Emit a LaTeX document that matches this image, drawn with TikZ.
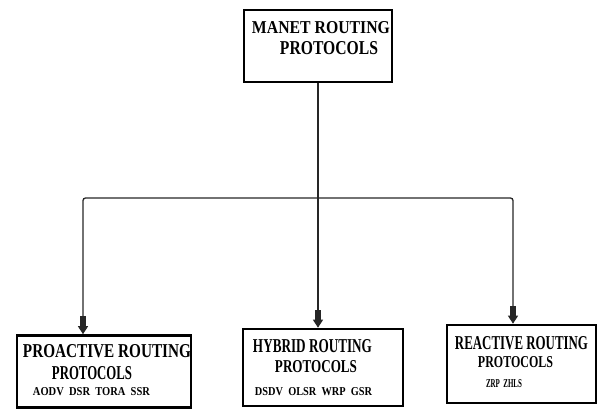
\documentclass[tikz,border=0pt]{standalone}
\usepackage{fontspec}
\setmainfont{Liberation Serif}
\usepackage{graphicx}
\usetikzlibrary{arrows.meta}
\newcommand{\fitline}[3]{\resizebox{#1pt}{#2pt}{\bfseries #3}}
\begin{document}
\begin{tikzpicture}[x=1pt,y=-1pt,
  box/.style={draw, line width=2.6pt, inner sep=0pt, anchor=center},
  lbl/.style={inner sep=0pt, anchor=center},
  conn/.style={line width=1.3pt, draw=black!85},
  tipped/.style={-{Rectangle[width=5.5pt,length=10pt]Triangle[width=10pt,length=8pt]}}]
\useasboundingbox (0,0) rectangle (598,409);
% boxes
\node[box, minimum width=148pt, minimum height=72pt] (top) at (318,46) {};
\node[box, minimum width=174pt, minimum height=72pt] (lb) at (104,371.5) {};
\node[box, minimum width=160pt, minimum height=77pt] (mb) at (323,367.5) {};
\node[box, minimum width=149pt, minimum height=78pt] (rb) at (521.5,364) {};
% texts
\node[lbl] (t1) at (321,28) {\fitline{138}{12}{MANET ROUTING}};
\node[lbl] (t2) at (329,48.5) {\fitline{98}{13}{PROTOCOLS}};
\node[lbl] (l1) at (107,351.5) {\fitline{168}{13}{PROACTIVE ROUTING}};
\node[lbl] (l2) at (92,373.5) {\fitline{80}{13}{PROTOCOLS}};
\node[lbl] (l3) at (91.5,392) {\fitline{117}{8}{AODV\ \ DSR\ \ TORA\ \ SSR}};
\node[lbl] (m1) at (312.5,346.5) {\fitline{119}{13}{HYBRID ROUTING}};
\node[lbl] (m2) at (316,367) {\fitline{82}{12}{PROTOCOLS}};
\node[lbl] (m3) at (313.5,391.5) {\fitline{117}{8}{DSDV\ \ OLSR\ \ WRP\ \ GSR}};
\node[lbl] (r1) at (521.5,343.5) {\fitline{133}{13}{REACTIVE ROUTING}};
\node[lbl] (r2) at (515.5,362.5) {\fitline{75}{11}{PROTOCOLS}};
\node[lbl] (r3) at (504,383.5) {\fitline{36}{8}{ZRP\ \ ZHLS}};
% connectors
\coordinate (j) at (318,198);
\coordinate (jl) at (83,198);
\coordinate (jr) at (513,198);
\draw[conn, tipped] (top.south) -- (top.south |- mb.north);
\draw[conn, tipped, rounded corners=2.5pt] (j) -| (lb.north -| jl);
\draw[conn, tipped, rounded corners=2.5pt] (j) -| (rb.north -| jr);
\end{tikzpicture}
\end{document}
